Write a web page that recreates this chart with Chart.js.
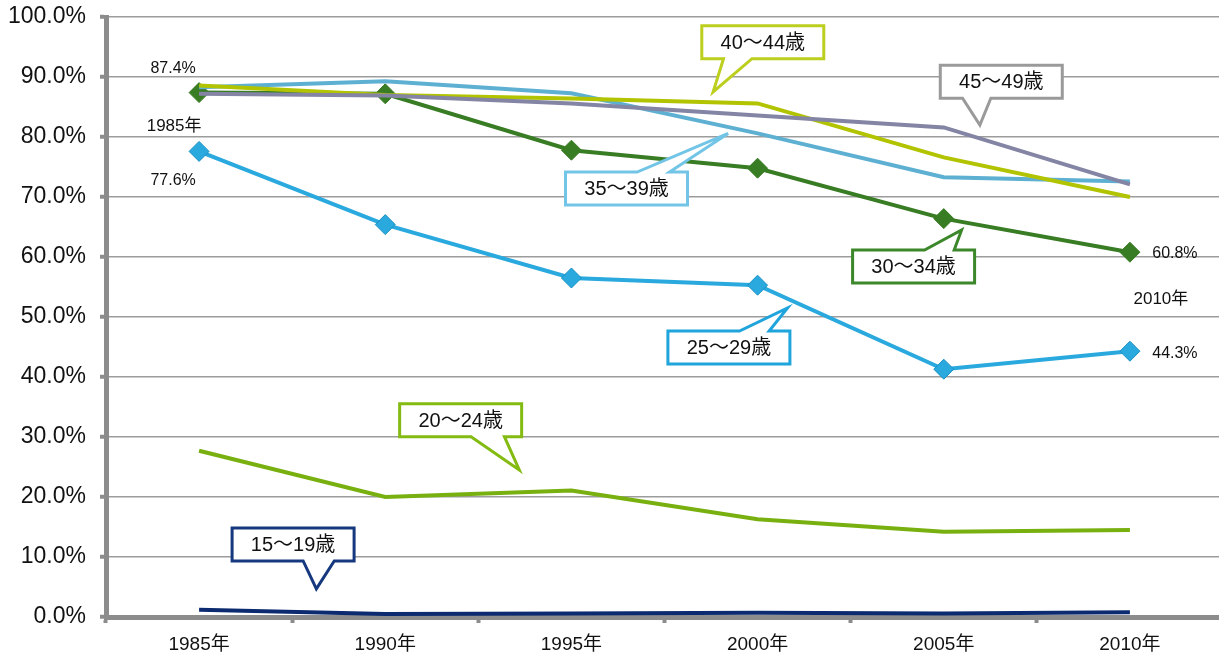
<!DOCTYPE html>
<html lang="ja">
<head>
<meta charset="utf-8">
<title>年齢階級別 推移</title>
<script src="https://cdn.jsdelivr.net/npm/chart.js@4/dist/chart.umd.min.js"></script>
<style>
  html, body { margin: 0; padding: 0; background: #fff; overflow: hidden; }
  canvas { display: block; }
</style>
</head>
<body>
<canvas id="ageChart" width="1234" height="656"></canvas>
<script>
// 年次
const years = ['1985年', '1990年', '1995年', '2000年', '2005年', '2010年'];

// 年齢階級別の値 (%)
const age15_19 = [1.2, 0.5, 0.6, 0.7, 0.6, 0.8];
const age20_24 = [27.7, 20.0, 21.1, 16.3, 14.2, 14.5];
const age25_29 = [77.6, 65.4, 56.5, 55.3, 41.3, 44.3];
const age30_34 = [87.4, 87.2, 77.8, 74.8, 66.4, 60.8];
const age35_39 = [88.3, 89.3, 87.3, 80.6, 73.3, 72.6];
const age40_44 = [88.6, 87.0, 86.4, 85.6, 76.6, 70.0];
const age45_49 = [87.2, 86.9, 85.6, 83.6, 81.6, 72.1];

const yTicks = [0, 10, 20, 30, 40, 50, 60, 70, 80, 90, 100];

const FONT = "'Liberation Sans', 'Noto Sans CJK JP', sans-serif";

// 吹き出し: 箱の中心 / 付け根 / 先端 を (年次index, %) で指定
const callouts = [
  { text: '40～44歳', color: '#bccf1e', box: [3.028, 95.8], edge: 'bottom', base: [2.817, 2.970], tip: [2.761, 87.5] },
  { text: '45～49歳', color: '#9a9a9a', box: [4.309, 89.2], edge: 'bottom', base: [4.101, 4.253], tip: [4.194, 82.0] },
  { text: '35～39歳', color: '#72c5e6', box: [2.296, 71.4], edge: 'top', base: [2.353, 2.527], tip: [2.842, 80.6] },
  { text: '30～34歳', color: '#3d872b', box: [3.838, 58.4], edge: 'top', base: [3.897, 4.056], tip: [4.096, 64.5] },
  { text: '25～29歳', color: '#1fa4dc', box: [2.846, 44.9], edge: 'top', base: [2.903, 3.062], tip: [3.161, 51.5] },
  { text: '20～24歳', color: '#84bb12', box: [1.405, 32.8], edge: 'bottom', base: [1.461, 1.640], tip: [1.720, 24.5] },
  { text: '15～19歳', color: '#16387e', box: [0.505, 12.1], edge: 'bottom', base: [0.559, 0.726], tip: [0.630, 4.7] }
];

function pct(v) { return v.toFixed(1) + '%'; }

const calloutPlugin = {
  id: 'callouts',
  afterDatasetsDraw(chart) {
    const ctx = chart.ctx;
    const xs = chart.scales.x, ys = chart.scales.y;
    const W = 122, H = 33;
    ctx.save();
    callouts.forEach(c => {
      const cx = xs.getPixelForValue(c.box[0]);
      const cy = ys.getPixelForValue(c.box[1]);
      const l = cx - W / 2, r = cx + W / 2, t = cy - H / 2, b = cy + H / 2;
      const b1 = xs.getPixelForValue(c.base[0]);
      const b2 = xs.getPixelForValue(c.base[1]);
      const tx = xs.getPixelForValue(c.tip[0]);
      const ty = ys.getPixelForValue(c.tip[1]);
      ctx.beginPath();
      ctx.moveTo(l, t);
      if (c.edge === 'top') {
        ctx.lineTo(b1, t); ctx.lineTo(tx, ty); ctx.lineTo(b2, t);
      }
      ctx.lineTo(r, t);
      ctx.lineTo(r, b);
      if (c.edge === 'bottom') {
        ctx.lineTo(b2, b); ctx.lineTo(tx, ty); ctx.lineTo(b1, b);
      }
      ctx.lineTo(l, b);
      ctx.closePath();
      ctx.fillStyle = '#fff';
      ctx.fill();
      ctx.lineWidth = 3;
      ctx.lineJoin = 'miter';
      ctx.strokeStyle = c.color;
      ctx.stroke();
      ctx.fillStyle = '#111';
      ctx.font = '20px ' + FONT;
      ctx.textAlign = 'center';
      ctx.textBaseline = 'middle';
      ctx.fillText(c.text, cx, cy + 1);
    });

    // 1985年・2010年の値ラベル
    const p30 = chart.getDatasetMeta(3).data;
    const p25 = chart.getDatasetMeta(2).data;
    const last = years.length - 1;
    ctx.fillStyle = '#111';
    ctx.font = '16px ' + FONT;
    ctx.textAlign = 'center';
    ctx.textBaseline = 'middle';
    ctx.fillText(pct(age30_34[0]), p30[0].x - 26, p30[0].y - 24);
    ctx.fillText(pct(age25_29[0]), p25[0].x - 26, p25[0].y + 29);
    ctx.fillText(pct(age30_34[last]), p30[last].x + 45, p30[last].y + 1);
    ctx.fillText(pct(age25_29[last]), p25[last].x + 45, p25[last].y + 2);
    ctx.font = '17px ' + FONT;
    ctx.fillText(years[0], p30[0].x - 25, p30[0].y + 34);
    ctx.fillText(years[last], p30[last].x + 31, p30[last].y + 47);
    ctx.restore();
  }
};

function lineSet(label, data, color, order, extra) {
  return Object.assign({
    label: label,
    data: data,
    borderColor: color,
    backgroundColor: color,
    borderWidth: 4,
    pointRadius: 0,
    fill: false,
    tension: 0,
    order: order
  }, extra || {});
}

const diamond = (border) => ({
  pointStyle: 'rectRot',
  pointRadius: 10,
  pointHoverRadius: 10,
  pointBorderWidth: 1,
  pointBorderColor: border
});

const ctx = document.getElementById('ageChart').getContext('2d');
new Chart(ctx, {
  type: 'line',
  data: {
    labels: years,
    datasets: [
      lineSet('15～19歳', age15_19, '#0b2a6f', 7),
      lineSet('20～24歳', age20_24, '#78b010', 6),
      lineSet('25～29歳', age25_29, '#2aa9de', 5, diamond('#1a90c4')),
      lineSet('30～34歳', age30_34, '#387c24', 4, diamond('#387c24')),
      lineSet('35～39歳', age35_39, '#5eb0d2', 3),
      lineSet('40～44歳', age40_44, '#b2c300', 2),
      lineSet('45～49歳', age45_49, '#8484a4', 1)
    ]
  },
  options: {
    responsive: false,
    animation: false,
    layout: { padding: { top: 17, left: 4, right: 1, bottom: 0 } },
    plugins: {
      legend: { display: false },
      tooltip: { enabled: false }
    },
    scales: {
      x: {
        offset: true,
        afterFit(scale) {
          scale.height = 39;
          scale.paddingLeft = 0;
          scale.paddingRight = 0;
        },
        grid: {
          offset: true,
          drawOnChartArea: false,
          tickLength: 6,
          tickWidth: 4,
          tickColor: '#8c8c8c'
        },
        border: { color: '#8c8c8c', width: 5 },
        ticks: {
          padding: 10,
          color: '#111',
          font: { family: FONT, size: 19 }
        }
      },
      y: {
        min: 0,
        max: 100,
        afterFit(scale) {
          scale.width = 102;
          scale.paddingTop = 0;
          scale.paddingBottom = 0;
        },
        afterBuildTicks(scale) {
          scale.ticks = yTicks.map(v => ({ value: v }));
        },
        grid: {
          color: '#9c9c9c',
          lineWidth: 1.5,
          tickLength: 6,
          tickWidth: 4,
          tickColor: '#8c8c8c'
        },
        border: { color: '#8c8c8c', width: 5 },
        ticks: {
          padding: 14,
          color: '#111',
          font: { family: FONT, size: 23 },
          callback: v => pct(v)
        }
      }
    }
  },
  plugins: [calloutPlugin]
});
</script>
</body>
</html>
